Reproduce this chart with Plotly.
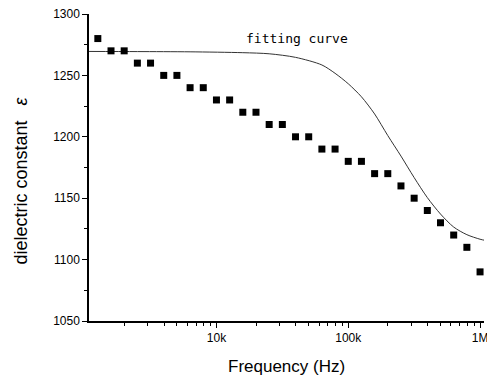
import plotly.graph_objects as go

# measured data (frequency in Hz, dielectric constant)
freq_hz = [1259, 1585, 1995, 2512, 3162, 3981, 5012, 6310, 7943, 10000,
           12589, 15849, 19953, 25119, 31623, 39811, 50119, 63096, 79433, 100000,
           125893, 158489, 199526, 251189, 316228, 398107, 501187, 630957, 794328, 1000000]
eps_meas = [1280, 1270, 1270, 1260, 1260, 1250, 1250, 1240, 1240, 1230,
            1230, 1220, 1220, 1210, 1210, 1200, 1200, 1190, 1190, 1180,
            1180, 1170, 1170, 1160, 1150, 1140, 1130, 1120, 1110, 1090]

# fitting curve, points
fit_hz = [1080, 2512, 6310, 15849, 25119, 39811, 63096, 79433, 100000, 125893,
          158489, 199526, 251189, 316228, 398107, 501187, 630957, 794328, 1000000, 1122018]
fit_eps = [1269.5, 1269.4, 1269.2, 1268.5, 1267.6, 1264.7, 1258.5, 1251.7, 1243.2, 1232.6,
           1218.6, 1201, 1184.3, 1166.8, 1150.5, 1137.1, 1126.5, 1120.3, 1116.6, 1115.4]

x_tickvals = [10000, 100000, 1000000]
x_ticktext = ["10k", "100k", "1M"]
x_minor = [2000, 3000, 4000, 5000, 6000, 7000, 8000, 9000,
           20000, 30000, 40000, 50000, 60000, 70000, 80000, 90000,
           200000, 300000, 400000, 500000, 600000, 700000, 800000, 900000]
y_tickvals = [1050, 1100, 1150, 1200, 1250, 1300]
y_minor = [1075, 1125, 1175, 1225, 1275]

fig = go.Figure()
fig.add_trace(go.Scatter(x=fit_hz, y=fit_eps, mode="lines",
                         line=dict(color="#333333", width=1, shape="spline", smoothing=0.8),
                         showlegend=False))
fig.add_trace(go.Scatter(x=freq_hz, y=eps_meas, mode="markers",
                         marker=dict(symbol="square", size=7, color="black"),
                         showlegend=False))

fig.add_annotation(x=0.527, y=1.0, xref="paper", yref="paper", yshift=-24,
                   text="fitting curve", showarrow=False, xanchor="center", yanchor="middle",
                   font=dict(family="DejaVu Sans Mono", size=13, color="black"))
fig.add_annotation(x=0.5, y=0, xref="paper", yref="paper", yshift=-45,
                   text="Frequency (Hz)", showarrow=False, xanchor="center", yanchor="middle",
                   font=dict(size=17, color="black"))
fig.add_annotation(x=0, y=0.5, xref="paper", yref="paper", xshift=-69, yshift=-13,
                   text="dielectric constant   <i>ε</i>", showarrow=False, textangle=-90,
                   xanchor="center", yanchor="middle",
                   font=dict(size=18, color="black"))

fig.update_layout(
    width=495, height=383,
    margin=dict(l=81, r=19, t=6, b=70),
    plot_bgcolor="white", paper_bgcolor="white",
    font=dict(family="Liberation Sans, Arial", size=12, color="black"),
)
fig.update_xaxes(type="log", range=[3.033, 6.03], automargin=False,
                 tickvals=x_tickvals, ticktext=x_ticktext, ticklabeloverflow="allow",
                 ticks="outside", ticklen=5, tickwidth=1, tickcolor="black",
                 minor=dict(tickvals=x_minor, ticks="outside", ticklen=3, tickwidth=1, tickcolor="black"),
                 showline=True, linecolor="black", linewidth=1.5,
                 showgrid=False, zeroline=False,
                 tickfont=dict(size=12))
fig.update_yaxes(range=[1050, 1300], automargin=False, ticklabeloverflow="allow",
                 tickvals=y_tickvals,
                 ticks="outside", ticklen=5, tickwidth=1, tickcolor="black",
                 minor=dict(tickvals=y_minor, ticks="outside", ticklen=3, tickwidth=1, tickcolor="black"),
                 showline=True, linecolor="black", linewidth=1.5,
                 showgrid=False, zeroline=False,
                 tickfont=dict(size=12))

fig.write_html("out.html")
